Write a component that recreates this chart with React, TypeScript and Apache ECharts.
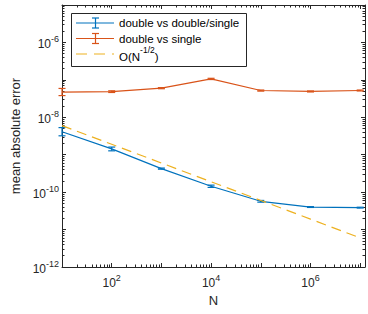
import React, { useEffect, useRef } from 'react';
import * as echarts from 'echarts';

// ---- data ----
const N = [10, 100, 1000, 1e4, 1e5, 1e6, 1e7];
const dblVsDblSingle = [4.1e-9, 1.43e-9, 4.25e-10, 1.44e-10, 5.7e-11, 4.0e-11, 3.86e-11];
const dblVsDblSingleLow = [3.2e-9, 1.27e-9, 4.1e-10, 1.34e-10, 5.4e-11, 3.9e-11, 3.76e-11];
const dblVsDblSingleHigh = [5.3e-9, 1.6e-9, 4.4e-10, 1.54e-10, 6.0e-11, 4.1e-11, 3.96e-11];
const dblVsSingle = [4.7e-8, 4.87e-8, 6.0e-8, 1.06e-7, 5.2e-8, 4.9e-8, 5.2e-8];
const dblVsSingleLow = [3.8e-8, 4.6e-8, 5.8e-8, 1.02e-7, 5.0e-8, 4.75e-8, 5.05e-8];
const dblVsSingleHigh = [5.9e-8, 5.1e-8, 6.2e-8, 1.1e-7, 5.35e-8, 5.05e-8, 5.35e-8];
const refHalfPower = [6e-9, 1.9e-9, 6e-10, 1.9e-10, 6e-11, 1.9e-11, 6e-12];

const seriesNames = ['double vs double/single', 'double vs single', 'O(N^-1/2)'];
const xMin = 10;
const xMax = 1.25e7;
const yMin = 1e-12;
const yMax = 1e-5;

const BLUE = '#0072BD';
const RED = '#D95319';
const YELLOW = '#EDB120';
const AX = '#262626';
const FONT = '"Liberation Sans", Arial, Helvetica, sans-serif';

function supLabel(v: number): string {
  const e = Math.log10(v);
  const r = Math.round(e);
  if (Math.abs(e - r) > 1e-6 || r % 2 !== 0) return '';
  return `{b|10}{s|${r}}`;
}

const labelRich = {
  b: { fontSize: 12, lineHeight: 16, verticalAlign: 'bottom', color: AX, fontFamily: FONT },
  s: { fontSize: 9, verticalAlign: 'top', color: AX, fontFamily: FONT },
};

function pairs(ys: number[]) {
  return N.map((n, i) => [n, ys[i]]);
}

function errSeries(name: string, low: number[], high: number[], color: string) {
  return {
    type: 'custom',
    name,
    xAxisIndex: 0,
    yAxisIndex: 0,
    clip: false,
    encode: { x: 0, y: [1, 2] },
    data: N.map((n, i) => [n, low[i], high[i]]),
    renderItem: (_params: any, api: any) => {
      const x = api.value(0);
      const p1 = api.coord([x, api.value(1)]);
      const p2 = api.coord([x, api.value(2)]);
      const w = 3.5;
      const style = { stroke: color, lineWidth: 1.2 };
      return {
        type: 'group',
        children: [
          { type: 'line', shape: { x1: p1[0], y1: p1[1], x2: p2[0], y2: p2[1] }, style },
          { type: 'line', shape: { x1: p1[0] - w, y1: p1[1], x2: p1[0] + w, y2: p1[1] }, style },
          { type: 'line', shape: { x1: p2[0] - w, y1: p2[1], x2: p2[0] + w, y2: p2[1] }, style },
        ],
      };
    },
  };
}

function baseAxis(min: number, max: number) {
  return {
    type: 'log',
    logBase: 10,
    min,
    max,
    axisLine: { show: true, lineStyle: { color: AX, width: 1 } },
    axisTick: { show: true, inside: true, length: 4, lineStyle: { color: AX, width: 1 } },
    minorTick: { show: true, splitNumber: 9, length: 2.5, lineStyle: { color: AX, width: 1 } },
    splitLine: { show: false },
    minorSplitLine: { show: false },
  };
}

function legendGraphic() {
  const left = 71.5;
  const top = 13.5;
  const rows = [23, 38.5, 54];
  const x1 = 76;
  const x2 = 114;
  const xm = 95.5;
  const textX = 119;
  const els: any[] = [
    {
      type: 'rect',
      shape: { x: left, y: top, width: 175, height: 53 },
      style: { fill: '#fff', stroke: AX, lineWidth: 1 },
      z: 10,
    },
  ];
  const colors = [BLUE, RED];
  colors.forEach((c, i) => {
    const y = rows[i];
    const st = { stroke: c, lineWidth: 1.2 };
    els.push({ type: 'line', shape: { x1, y1: y, x2, y2: y }, style: st, z: 11 });
    els.push({ type: 'line', shape: { x1: xm, y1: y - 5, x2: xm, y2: y + 5 }, style: st, z: 11 });
    els.push({ type: 'line', shape: { x1: xm - 3.5, y1: y - 5, x2: xm + 3.5, y2: y - 5 }, style: st, z: 11 });
    els.push({ type: 'line', shape: { x1: xm - 3.5, y1: y + 5, x2: xm + 3.5, y2: y + 5 }, style: st, z: 11 });
    els.push({
      type: 'text',
      z: 11,
      style: {
        x: textX,
        y,
        text: seriesNames[i],
        fontSize: 11.5,
        fontFamily: FONT,
        fill: '#000',
        verticalAlign: 'middle',
      },
    });
  });
  const y3 = rows[2];
  els.push({
    type: 'line',
    shape: { x1, y1: y3, x2, y2: y3 },
    style: { stroke: YELLOW, lineWidth: 1.2, lineDash: [11, 7] },
    z: 11,
  });
  els.push({
    type: 'text',
    z: 11,
    style: {
      x: textX,
      y: y3,
      text: '{a|O(N}{s|-1/2}{a|)}',
      verticalAlign: 'middle',
      rich: {
        a: { fontSize: 11.5, fontFamily: FONT, fill: '#000', lineHeight: 17, verticalAlign: 'bottom' },
        s: { fontSize: 8.5, fontFamily: FONT, fill: '#000', verticalAlign: 'top' },
      },
    },
  });
  return els;
}

export default function App() {
  const ref = useRef<HTMLDivElement>(null);
  useEffect(() => {
    document.body.style.margin = '0';
    if (!ref.current) return;
    const chart = echarts.init(ref.current, null, { renderer: 'svg' });
    const option: any = {
      animation: false,
      backgroundColor: '#fff',
      textStyle: { fontFamily: FONT },
      grid: { left: 62, right: 3, top: 5, bottom: 47, containLabel: false, outerBoundsMode: 'none' },
      xAxis: [
        {
          ...baseAxis(xMin, xMax),
          position: 'bottom',
          name: 'N',
          nameLocation: 'middle',
          nameGap: 27,
          nameTextStyle: { fontSize: 13, color: AX, fontFamily: FONT },
          axisLabel: {
            show: true,
            margin: 6,
            formatter: supLabel,
            rich: labelRich,
            showMinLabel: false,
            showMaxLabel: false,
          },
        },
        {
          ...baseAxis(xMin, xMax),
          position: 'top',
          axisLabel: { show: false },
        },
      ],
      yAxis: [
        {
          ...baseAxis(yMin, yMax),
          position: 'left',
          name: 'mean absolute error',
          nameLocation: 'middle',
          nameGap: 36,
          nameTextStyle: { fontSize: 13, color: AX, fontFamily: FONT },
          axisLabel: {
            show: true,
            margin: 3,
            formatter: supLabel,
            rich: labelRich,
          },
        },
        {
          ...baseAxis(yMin, yMax),
          position: 'right',
          axisLabel: { show: false },
        },
      ],
      series: [
        {
          type: 'line',
          name: seriesNames[0],
          data: pairs(dblVsDblSingle),
          symbol: 'none',
          lineStyle: { color: BLUE, width: 1.2 },
          z: 2,
        },
        errSeries('err0', dblVsDblSingleLow, dblVsDblSingleHigh, BLUE),
        {
          type: 'line',
          name: seriesNames[1],
          data: pairs(dblVsSingle),
          symbol: 'none',
          lineStyle: { color: RED, width: 1.2 },
          z: 3,
        },
        errSeries('err1', dblVsSingleLow, dblVsSingleHigh, RED),
        {
          type: 'line',
          name: seriesNames[2],
          data: pairs(refHalfPower),
          symbol: 'none',
          lineStyle: { color: YELLOW, width: 1.2, type: [10, 6] },
          z: 4,
        },
      ],
      graphic: legendGraphic(),
    };
    chart.setOption(option);
    return () => chart.dispose();
  }, []);
  return <div ref={ref} style={{ width: 368, height: 314 }} />;
}
